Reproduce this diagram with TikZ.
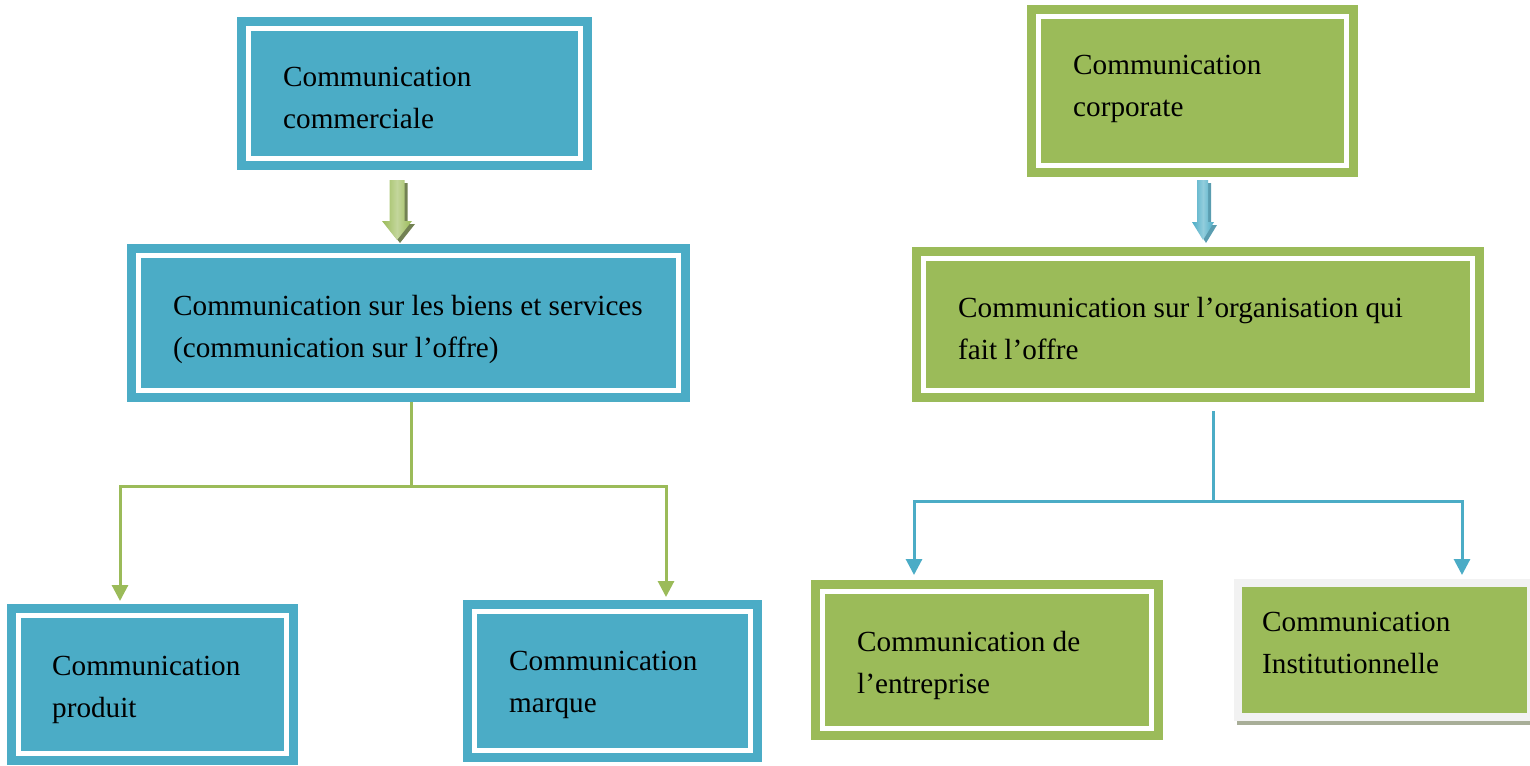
\documentclass[tikz,border=0pt]{standalone}
\usepackage{fontspec}
\setmainfont{Liberation Serif}
\usetikzlibrary{arrows.meta,calc}
\definecolor{aqua}{HTML}{4BACC6}
\definecolor{aquadark}{HTML}{31859C}
\definecolor{aqualight}{HTML}{92CDDC}
\definecolor{olive}{HTML}{9BBB59}
\definecolor{olivedark}{HTML}{4F6228}
\definecolor{olivelight}{HTML}{C3D69B}
\definecolor{paleframe}{HTML}{F2F2F2}
\definecolor{paleshadow}{HTML}{A8AE98}
\newcommand\boxfnt{\fontsize{29.2}{42}\selectfont}
\tikzset{
  framed/.style={draw=#1, fill=#1, line width=9pt, inner sep=0pt, outer sep=0pt,
    double=white, double distance=5pt},
  boxtext/.style={font=\boxfnt, align=flush left, text=black, text width=600pt,
    inner sep=0pt, anchor=base west},
  gline/.style={olive, line width=3pt},
  bline/.style={aqua, line width=3pt},
  tip/.style={-{Triangle[width=16pt,length=16pt]}},
}
\begin{document}
\begin{tikzpicture}[x=1pt,y=-1pt]
\useasboundingbox (0,0) rectangle (1530,765);

% --- commercial branch (blue boxes, green links)
\node[framed=aqua, minimum width=332, minimum height=130] (n1) at (414.5,93.5) {};
\node[framed=aqua, minimum width=540, minimum height=135] (n2) at (408.5,323) {};
\node[framed=aqua, minimum width=268, minimum height=138] (n3) at (152.5,684.5) {};
\node[framed=aqua, minimum width=276, minimum height=139] (n4) at (612.5,681) {};

\node[boxtext] (t1) at (283,86.7) {Communication\\commerciale};
\node[boxtext] (t2) at (173,315) {Communication sur les biens et services\\(communication sur l’offre)};
\node[boxtext] (t3) at (52,675) {Communication\\produit};
\node[boxtext] (t4) at (509,670) {Communication\\marque};

% block arrow between the first two boxes
\fill[olivedark!80] (392.5,183) -- (407.5,183) -- (407.5,224) -- (415,224)
  -- (400,243) -- (385,224) -- (392.5,224) -- cycle;
\shade[left color=olive, right color=olive, middle color=olivelight]
  (389.5,180) -- (404.5,180) -- (404.5,221) -- (412,221)
  -- (397,240) -- (382,221) -- (389.5,221) -- cycle;

\coordinate (gsplit) at (411,486);
\coordinate (gl) at (120,601);
\coordinate (gr) at (666,597);
\draw[gline] ($(n2.south -| gsplit)+(0,11.5)$) -- (gsplit);
\draw[gline, tip] (gsplit) -| (gl);
\draw[gline, tip] (gsplit) -| (gr);

% --- corporate branch (green boxes, blue links)
\node[framed=olive, minimum width=308, minimum height=149] (n5) at (1192.5,91) {};
\node[framed=olive, minimum width=549, minimum height=132] (n6) at (1198,324.5) {};
\node[framed=olive, minimum width=329, minimum height=137] (n7) at (987,660) {};

\fill[paleshadow] (1237,716) rectangle (1530,725);
\node[draw=paleframe, fill=olive, line width=8pt, inner sep=0pt, outer sep=0pt,
  minimum width=293, minimum height=134] (n8) at (1384.5,650) {};

\node[boxtext] (t5) at (1073,75) {Communication\\corporate};
\node[boxtext] (t6) at (958,317) {Communication sur l’organisation qui\\fait l’offre};
\node[boxtext] (t7) at (857,651) {Communication de\\l’entreprise};
\node[boxtext] (t8) at (1262,631) {Communication\\Institutionnelle};

% block arrow between the corporate boxes
\fill[aquadark!80] (1200,183) -- (1211,183) -- (1211,225) -- (1217,225)
  -- (1206,243) -- (1195,225) -- (1200,225) -- cycle;
\shade[left color=aqua, right color=aqua, middle color=aqualight]
  (1197,180) -- (1208,180) -- (1208,222) -- (1214,222)
  -- (1203,240) -- (1192,222) -- (1197,222) -- cycle;

\coordinate (bsplit) at (1213.5,501);
\coordinate (bl) at (914,575);
\coordinate (br) at (1462,575);
\draw[bline] ($(n6.south -| bsplit)+(0,20.5)$) -- (bsplit);
\draw[bline, tip] (bsplit) -| (bl);
\draw[bline, tip] (bsplit) -| (br);
\end{tikzpicture}
\end{document}
